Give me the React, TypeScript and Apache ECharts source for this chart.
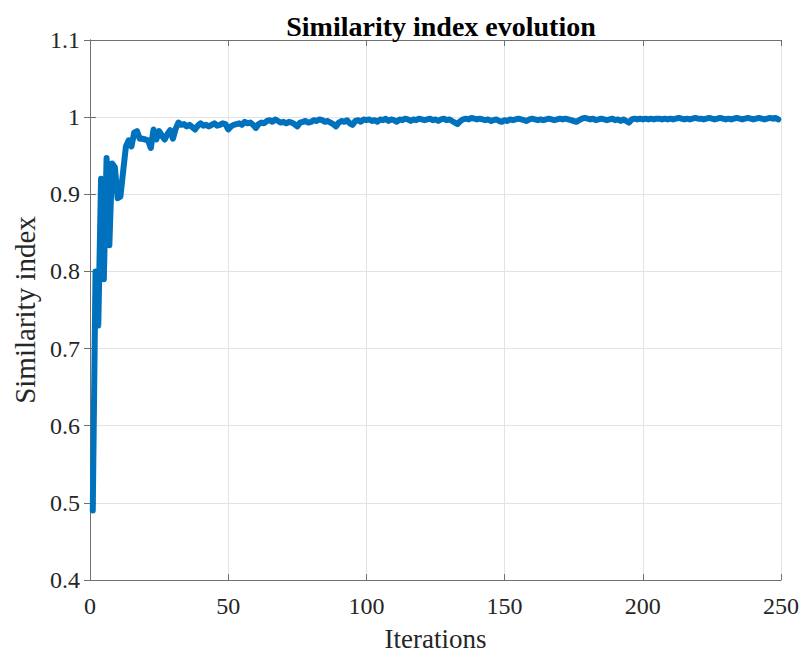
import React, { useEffect, useRef } from "react";
import * as echarts from "echarts";

const title = "Similarity index evolution";
const xName = "Iterations";
const yName = "Similarity index";

const earlyValues = [
  0.49, 0.80, 0.73, 0.92, 0.79, 0.947, 0.834, 0.94, 0.935, 0.895,
  0.897, 0.93, 0.962, 0.97, 0.962, 0.98, 0.982, 0.972, 0.972, 0.971,
  0.97, 0.96, 0.984, 0.971, 0.982, 0.976, 0.971, 0.978, 0.983, 0.972,
  0.985, 0.993, 0.99, 0.991, 0.988, 0.99, 0.987, 0.984, 0.989, 0.992,
  0.989, 0.99, 0.988, 0.99, 0.992, 0.989, 0.99, 0.992, 0.991, 0.984,
  0.988, 0.99, 0.991, 0.992, 0.99, 0.994, 0.992, 0.993, 0.99, 0.986,
];
const midValues = [
  0.991, 0.993, 0.992, 0.995, 0.996, 0.994, 0.997, 0.995, 0.993, 0.994,
  0.992, 0.994, 0.993, 0.991, 0.988, 0.993, 0.994, 0.995, 0.993, 0.994,
  0.996, 0.995, 0.997, 0.996, 0.994, 0.995, 0.993, 0.991, 0.988, 0.993,
  0.995, 0.994, 0.996, 0.992, 0.990, 0.995, 0.996, 0.994, 0.997, 0.996,
  0.997, 0.995, 0.996, 0.994, 0.997, 0.996, 0.998, 0.995, 0.997, 0.996,
  0.994, 0.997, 0.996, 0.998, 0.997, 0.995, 0.997, 0.996, 0.998, 0.997,
  0.996, 0.997, 0.998, 0.996, 0.997, 0.995, 0.997, 0.998, 0.996, 0.997,
  0.995, 0.993, 0.991, 0.995, 0.997, 0.998, 0.997, 0.999, 0.998, 0.997,
  0.998, 0.997, 0.996, 0.997, 0.995, 0.996, 0.997, 0.995, 0.994, 0.996,
];
const lateValues = [
  0.995, 0.997, 0.996, 0.997, 0.998, 0.997, 0.996, 0.995, 0.997, 0.998,
  0.997, 0.996, 0.997, 0.996, 0.997, 0.998, 0.997, 0.996, 0.997, 0.998,
  0.997, 0.998, 0.997, 0.996, 0.995, 0.994, 0.996, 0.998, 0.999, 0.998,
  0.997, 0.998, 0.996, 0.997, 0.998, 0.997, 0.996, 0.997, 0.998, 0.996,
  0.997, 0.995, 0.997, 0.995, 0.993, 0.997, 0.998, 0.997, 0.998, 0.997,
  0.998, 0.997, 0.998, 0.997, 0.998, 0.998, 0.997, 0.998, 0.997, 0.998,
  0.997, 0.998, 0.999, 0.998, 0.997, 0.998, 0.997, 0.998, 0.999, 0.998,
  0.998, 0.997, 0.998, 0.999, 0.998, 0.997, 0.998, 0.999, 0.998, 0.997,
  0.998, 0.997, 0.998, 0.999, 0.998, 0.997, 0.998, 0.999, 0.998, 0.997,
  0.998, 0.999, 0.998, 0.997, 0.998, 0.999, 0.998, 0.999, 0.997,
];
const similarity = [...earlyValues, ...midValues, ...lateValues];

const FONT = "'Liberation Serif', 'Times New Roman', serif";

export default function App() {
  const ref = useRef<HTMLDivElement>(null);
  useEffect(() => {
    if (!ref.current) return;
    const chart = echarts.init(ref.current, null, { renderer: "svg" });
    const data = similarity.map((v, i) => [i + 1, v]);
    const axisLine = { show: true, lineStyle: { color: "#707070", width: 1 } };
    const tick = { show: true, inside: true, length: 6, lineStyle: { color: "#707070" } };
    chart.setOption({
      animation: false,
      backgroundColor: "#ffffff",
      title: {
        text: title,
        left: 436,
        top: 7,
        textAlign: "center",
        textStyle: { fontFamily: FONT, fontSize: 28, fontWeight: "bold", color: "#000" },
      },
      grid: { left: 90, right: 21, top: 40, bottom: 71 },
      xAxis: [
        {
          type: "value",
          min: 0,
          max: 250,
          interval: 50,
          name: xName,
          nameLocation: "middle",
          nameGap: 45,
          nameTextStyle: { fontFamily: FONT, fontSize: 27, color: "#262626" },
          axisLine,
          axisTick: tick,
          axisLabel: { fontFamily: FONT, fontSize: 24, color: "#262626", margin: 14 },
          splitLine: { show: true, lineStyle: { color: "#e3e3e3", width: 1 } },
        },
        {
          type: "value",
          position: "top",
          min: 0,
          max: 250,
          interval: 50,
          axisLine,
          axisTick: tick,
          axisLabel: { show: false },
          splitLine: { show: false },
        },
      ],
      yAxis: [
        {
          type: "value",
          min: 0.4,
          max: 1.1,
          interval: 0.1,
          name: yName,
          nameLocation: "middle",
          nameGap: 47,
          nameTextStyle: { fontFamily: FONT, fontSize: 29, color: "#262626" },
          axisLine,
          axisTick: tick,
          axisLabel: {
            fontFamily: FONT,
            fontSize: 24,
            color: "#262626",
            margin: 10,
            formatter: (v: number) => String(Math.round(v * 10) / 10),
          },
          splitLine: { show: true, lineStyle: { color: "#e3e3e3", width: 1 } },
        },
        {
          type: "value",
          position: "right",
          min: 0.4,
          max: 1.1,
          interval: 0.1,
          axisLine,
          axisTick: tick,
          axisLabel: { show: false },
          splitLine: { show: false },
        },
      ],
      series: [
        {
          type: "line",
          data,
          showSymbol: false,
          symbol: "none",
          lineStyle: { color: "#0072BD", width: 6, join: "round", cap: "round" },
          xAxisIndex: 0,
          yAxisIndex: 0,
          z: 5,
        },
      ],
    });
    return () => chart.dispose();
  }, []);
  return (
    <div
      ref={ref}
      style={{ position: "absolute", left: 0, top: 0, width: 802, height: 657 }}
    />
  );
}
